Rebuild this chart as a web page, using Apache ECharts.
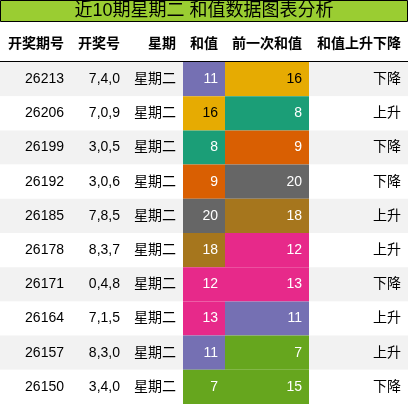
<!DOCTYPE html>
<html><head><meta charset="utf-8">
<script src="https://cdn.jsdelivr.net/npm/echarts@6/dist/echarts.min.js"></script>
<style>html,body{margin:0;padding:0;background:#fff}#c{width:408px;height:404px}</style>
</head><body><div id="c"></div>
<script>
const title = '近10期星期二 和值数据图表分析';
const headers = ['开奖期号','开奖号','星期','和值','前一次和值','和值上升下降'];
const issues = ['26213','26206','26199','26192','26185','26178','26171','26164','26157','26150'];
const draws = ['7,4,0','7,0,9','3,0,5','3,0,6','7,8,5','8,3,7','0,4,8','7,1,5','8,3,0','3,4,0'];
const weekdays = ['星期二','星期二','星期二','星期二','星期二','星期二','星期二','星期二','星期二','星期二'];
const sums = [11,16,8,9,20,18,12,13,11,7];
const prevSums = [16,8,9,20,18,12,13,11,7,15];
const trends = ['下降','上升','下降','下降','上升','上升','下降','上升','上升','下降'];

const edges = [0,71,127,183,225,309,408];
const colorMap = {11:'#7570b3',16:'#e6ab02',8:'#1b9e77',9:'#d95f02',20:'#666666',18:'#a6761d',12:'#e7298a',13:'#e7298a',7:'#66a61e',15:'#66a61e'};
const FONT = '"Liberation Sans","Noto Sans CJK SC",sans-serif';
const cols = [issues, draws, weekdays, sums, prevSums, trends];
const data = [];
for (let r=0;r<issues.length;r++) for (let c=0;c<6;c++) data.push([c,r]);

const chart = echarts.init(document.getElementById('c'));
const graphics = [
  {type:'rect',shape:{x:0.5,y:0.5,width:407,height:21},style:{fill:'#9acd32',stroke:'#000',lineWidth:1}},
  {type:'text',x:204,y:11,style:{text:title,fill:'#000',font:'18px '+FONT,textAlign:'center',textVerticalAlign:'middle'}},
  {type:'line',shape:{x1:0,y1:61.5,x2:408,y2:61.5},style:{stroke:'#000',lineWidth:1}}
];
headers.forEach((h,i)=>{
  graphics.push({type:'text',x:edges[i+1]-7,y:44,style:{text:h,fill:'#000',font:'bold 14px '+FONT,textAlign:'right',textVerticalAlign:'middle'}});
});
chart.setOption({
  animation:false,
  grid:{left:0,right:0,top:62,bottom:0},
  xAxis:{type:'value',min:0,max:408,show:false},
  yAxis:{type:'category',data:issues,inverse:true,show:false},
  graphic:graphics,
  series:[{
    type:'custom',
    data:data,
    renderItem:function(params,api){
      const c=api.value(0), r=api.value(1);
      const h=api.size([0,1])[1];
      const p0=api.coord([edges[c],r]), p1=api.coord([edges[c+1],r]);
      const y0=p0[1]-h/2;
      const v=cols[c][r];
      let fill = (r%2===0)?'#f2f2f2':'#ffffff';
      let tc='#000';
      if(c===3||c===4){fill=colorMap[v]; tc=(v===16)?'#000':'#fff';}
      return {type:'group',children:[
        {type:'rect',shape:{x:p0[0],y:y0,width:p1[0]-p0[0],height:h},style:{fill:fill}},
        {type:'text',x:p1[0]-7,y:p0[1],style:{text:String(v),fill:tc,font:'14px '+FONT,textAlign:'right',textVerticalAlign:'middle'}}
      ]};
    }
  }]
});
</script></body></html>
